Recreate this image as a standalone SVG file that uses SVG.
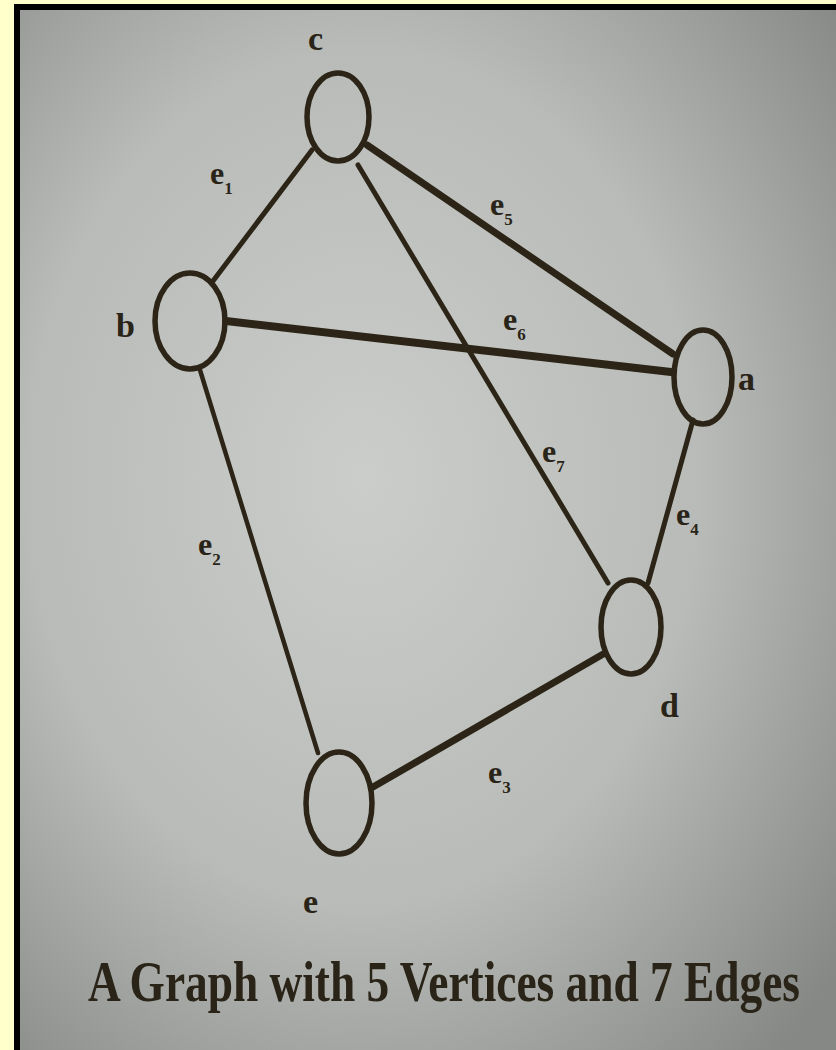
<svg xmlns="http://www.w3.org/2000/svg" width="836" height="1050" viewBox="0 0 836 1050">
  <defs>
    <radialGradient id="paper" cx="0.42" cy="0.45" r="0.75">
      <stop offset="0" stop-color="#cacdc9"/>
      <stop offset="0.55" stop-color="#b8bbb7"/>
      <stop offset="1" stop-color="#858884"/>
    </radialGradient>
    <style>
      .node { fill: none; stroke: #2c2517; stroke-width: 5.5; }
      .edge { stroke: #2c2517; stroke-linecap: round; fill: none; }
      .vlabel { font-family: "Liberation Serif", serif; font-weight: bold; font-size: 34px; fill: #2a2418; }
      .elabel { font-family: "Liberation Serif", serif; font-weight: bold; font-size: 32px; fill: #2a2418; }
      .sub { font-size: 17px; }
      .title { font-family: "Liberation Serif", serif; font-weight: bold; font-size: 42px; fill: #2a2418; }
    </style>
  </defs>

  <rect x="0" y="0" width="836" height="1050" fill="#ffffcc"/>
  <rect x="14" y="4" width="822" height="1046" fill="#000000"/>
  <rect x="20" y="10" width="816" height="1040" fill="url(#paper)"/>

  <g id="connectors">
    <line class="edge" x1="213" y1="281" x2="312" y2="150" stroke-width="5"/>
    <line class="edge" x1="367" y1="145" x2="673" y2="354" stroke-width="7"/>
    <line class="edge" x1="226" y1="321" x2="671" y2="372" stroke-width="8"/>
    <line class="edge" x1="358" y1="165" x2="608" y2="583" stroke-width="5"/>
    <line class="edge" x1="693" y1="420" x2="648" y2="583" stroke-width="5"/>
    <line class="edge" x1="200" y1="370" x2="318" y2="753" stroke-width="4.5"/>
    <line class="edge" x1="373" y1="787" x2="605" y2="653" stroke-width="7"/>

    <text class="elabel" x="210" y="184">e<tspan class="sub" dy="10">1</tspan></text>
    <text class="elabel" x="198" y="555">e<tspan class="sub" dy="10">2</tspan></text>
    <text class="elabel" x="488" y="783">e<tspan class="sub" dy="10">3</tspan></text>
    <text class="elabel" x="676" y="525">e<tspan class="sub" dy="10">4</tspan></text>
    <text class="elabel" x="490" y="215">e<tspan class="sub" dy="10">5</tspan></text>
    <text class="elabel" x="503" y="330">e<tspan class="sub" dy="10">6</tspan></text>
    <text class="elabel" x="542" y="462">e<tspan class="sub" dy="10">7</tspan></text>
  </g>

  <g id="node-c">
    <ellipse class="node" cx="338" cy="117" rx="31" ry="44"/>
    <text class="vlabel" x="308" y="50">c</text>
  </g>
  <g id="node-b">
    <ellipse class="node" cx="190" cy="321" rx="35" ry="48"/>
    <text class="vlabel" x="116" y="337">b</text>
  </g>
  <g id="node-a">
    <ellipse class="node" cx="703" cy="377" rx="29" ry="47"/>
    <text class="vlabel" x="738" y="390">a</text>
  </g>
  <g id="node-d">
    <ellipse class="node" cx="631" cy="627" rx="30" ry="47"/>
    <text class="vlabel" x="660" y="717">d</text>
  </g>
  <g id="node-e">
    <ellipse class="node" cx="339" cy="803" rx="33" ry="51"/>
    <text class="vlabel" x="303" y="913">e</text>
  </g>

  <text class="title" transform="translate(88,1001) scale(1,1.38)" x="0" y="0" textLength="712" lengthAdjust="spacingAndGlyphs">A Graph with 5 Vertices and 7 Edges</text>
</svg>
